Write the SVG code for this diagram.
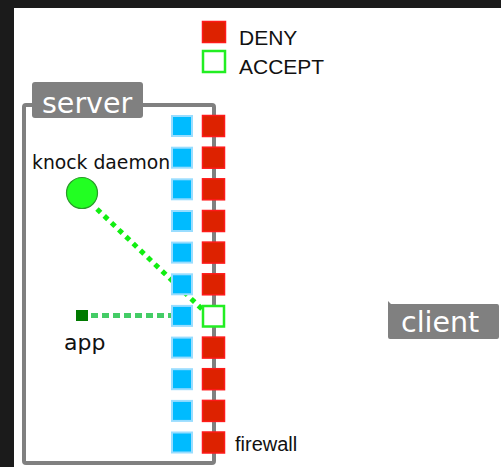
<svg xmlns="http://www.w3.org/2000/svg" width="501" height="467" viewBox="0 0 501 467">
  <defs>
    <style>
      .frame { fill: #1b1b1b; }
      .page { fill: #ffffff; }
      .box { fill: none; stroke: #808080; stroke-width: 4; }
      .tag { fill: #808080; }
      .tagtext { font-family: "DejaVu Sans", sans-serif; font-size: 28.5px; fill: #ffffff; }
      .label { font-family: "DejaVu Sans", sans-serif; fill: #111111; }
      .legend { font-family: "Liberation Sans", Arial, sans-serif; fill: #111111; }
      .port { fill: #00bbff; stroke: #99ddff; stroke-width: 2; }
      .deny { fill: #dd2200; stroke: #ff1a1a; stroke-width: 1.5; }
      .accept { fill: #ffffff; stroke: #22ee22; stroke-width: 2.5; }
      .knock { stroke: #11ee11; stroke-width: 5; stroke-dasharray: 5 5; fill: none; }
      .link { stroke: #44cc66; stroke-width: 5; stroke-dasharray: 7 4; fill: none; }
    </style>
  </defs>

  <!-- dark frame and white page -->
  <rect class="frame" x="0" y="0" width="501" height="467"/>
  <rect class="page" x="14" y="8" width="487" height="459"/>

  <!-- legend -->
  <g id="legend">
    <rect class="deny" x="202.5" y="21.5" width="23" height="21"/>
    <text class="legend" x="239" y="45" font-size="21">DENY</text>
    <rect class="accept" x="203" y="51" width="22" height="21"/>
    <text class="legend" x="239" y="74" font-size="21">ACCEPT</text>
  </g>

  <!-- server box -->
  <g id="server">
    <rect class="box" x="24" y="105" width="190" height="358" rx="2"/>
    <rect class="tag" x="32" y="82" width="111" height="36" rx="3"/>
    <text class="tagtext" x="42" y="112.5">server</text>
  </g>

  <!-- connectors -->
  <g id="connectors">
    <line class="knock" x1="97" y1="209" x2="204" y2="311"/>
    <line class="link" x1="91" y1="315.5" x2="176" y2="315.5"/>
  </g>

  <!-- ports on the server side -->
  <g id="ports">
    <rect class="port" x="172" y="116" width="20" height="20"/>
    <rect class="port" x="172" y="147.7" width="20" height="20"/>
    <rect class="port" x="172" y="179.3" width="20" height="20"/>
    <rect class="port" x="172" y="211" width="20" height="20"/>
    <rect class="port" x="172" y="242.6" width="20" height="20"/>
    <rect class="port" x="172" y="274.3" width="20" height="20"/>
    <rect class="port" x="172" y="305.9" width="20" height="20"/>
    <rect class="port" x="172" y="337.6" width="20" height="20"/>
    <rect class="port" x="172" y="369.2" width="20" height="20"/>
    <rect class="port" x="172" y="400.9" width="20" height="20"/>
    <rect class="port" x="172" y="432.5" width="20" height="20"/>
  </g>

  <!-- firewall rules -->
  <g id="firewall">
    <rect class="deny" x="202.5" y="115.5" width="22" height="21"/>
    <rect class="deny" x="202.5" y="147.2" width="22" height="21"/>
    <rect class="deny" x="202.5" y="178.8" width="22" height="21"/>
    <rect class="deny" x="202.5" y="210.5" width="22" height="21"/>
    <rect class="deny" x="202.5" y="242.1" width="22" height="21"/>
    <rect class="deny" x="202.5" y="273.8" width="22" height="21"/>
    <rect class="accept" x="203" y="306" width="21" height="20.5"/>
    <rect class="deny" x="202.5" y="337.1" width="22" height="21"/>
    <rect class="deny" x="202.5" y="368.7" width="22" height="21"/>
    <rect class="deny" x="202.5" y="400.4" width="22" height="21"/>
    <rect class="deny" x="202.5" y="432" width="22" height="21"/>
    <text class="legend" x="235" y="451" font-size="20">firewall</text>
  </g>

  <!-- knock daemon -->
  <g id="knock-daemon">
    <text class="label" x="32" y="169" font-size="18.8">knock daemon</text>
    <circle cx="82" cy="193" r="15.5" fill="#22ff22" stroke="#2a9a2a" stroke-width="1.2"/>
  </g>

  <!-- app -->
  <g id="app">
    <rect x="76" y="310" width="12" height="11" fill="#007a00"/>
    <text class="label" x="64" y="350" font-size="22">app</text>
  </g>

  <!-- client -->
  <g id="client">
    <path class="tag" d="M388 301 L391 304 L497 304 Q499 304 499 306 L499 337 Q499 339 497 339 L390 339 Q388 339 388 337 Z"/>
    <text class="tagtext" x="401" y="332">client</text>
  </g>
</svg>
